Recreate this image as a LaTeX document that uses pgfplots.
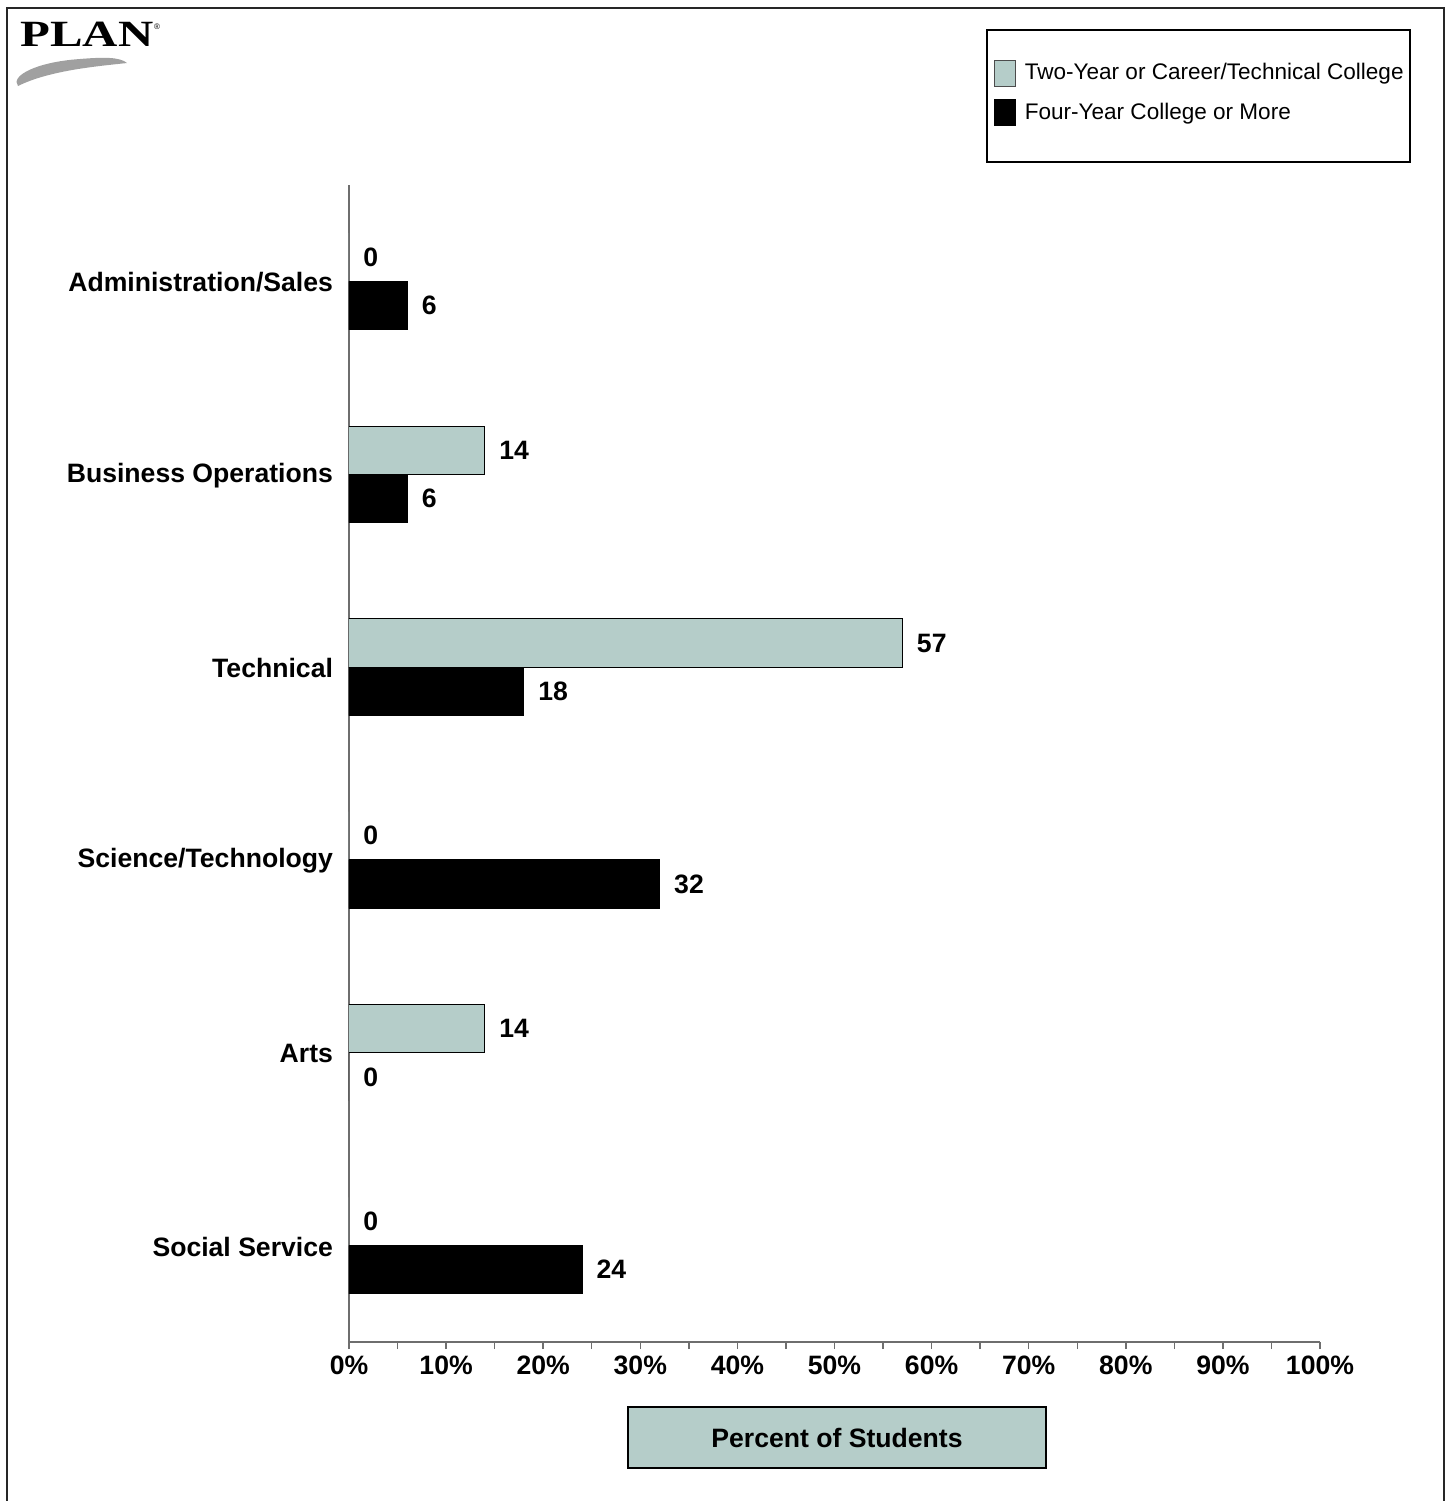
\documentclass[border=0pt]{standalone}
\usepackage{pgfplots}
\pgfplotsset{compat=1.18}
\usepackage{pgfplotstable}
\usepackage{graphicx}
\usepackage{fontspec}
\setmainfont{Liberation Sans}
\newfontfamily\planfont{Liberation Serif}
\definecolor{teal1}{RGB}{181,205,201}
\definecolor{axgray}{RGB}{110,110,110}
\definecolor{swoosh}{RGB}{160,160,160}

\pgfplotstableread{
y two four
5 0 6
4 14 6
3 57 18
2 0 32
1 14 0
0 0 24
}\datatab

\newcommand{\bigbf}{\bfseries\fontsize{13.3}{16}\selectfont}

\begin{document}
\begin{tikzpicture}
\useasboundingbox (0,0) rectangle (725pt,-750.5pt);
% outer frame
\draw[line width=1.2pt, black!85] (3.5pt,-760pt) -- (3.5pt,-4pt) -- (722pt,-4pt) -- (722pt,-760pt);
% logo
\node[anchor=base west, inner sep=0] at (10pt,-23pt) {\scalebox{1.32}[1]{\planfont\bfseries\fontsize{18.5}{18.5}\selectfont PLAN}};
\node[inner sep=0, font=\fontsize{4}{4}\selectfont] at (78.5pt,-13.5pt) {®};
\fill[swoosh] (9pt,-43pt) .. controls (5pt,-38pt) and (18pt,-31pt) .. (40pt,-29.5pt) .. controls (52pt,-28.5pt) and (60pt,-28.5pt) .. (63.5pt,-31.5pt) .. controls (50pt,-33pt) and (25pt,-35pt) .. (9pt,-43pt) -- cycle;
% axis title box
\node[draw=black, line width=0.8pt, fill=teal1, minimum width=209pt, minimum height=30.5pt, inner sep=0pt, font=\bigbf] at (418.5pt,-718.75pt) {Percent of Students};
% legend frame
\draw[line width=0.9pt] (493.5pt,-15pt) rectangle (705pt,-81pt);

\begin{axis}[
  at={(174.5pt,-671pt)}, anchor=south west,
  scale only axis, width=485.5pt, height=578.5pt,
  xmin=0, xmax=100, ymin=-0.5, ymax=5.5,
  xbar, bar width=0.25,
  /pgf/number format/assume math mode=true,
  axis x line*=bottom, axis y line*=left,
  axis line style={axgray, line width=0.7pt, -},
  xtick={0,10,...,100}, minor xtick={5,15,...,95},
  tick align=outside, major tick length=3.5pt, minor tick length=3.5pt,
  xtick style={axgray, line width=0.7pt},
  minor tick style={axgray, line width=0.7pt},
  xticklabel={\pgfmathprintnumber{\tick}\%},
  xticklabel style={font=\bigbf},
  ytick={0,...,5},
  yticklabels={Social Service,Arts,Science/Technology,Technical,Business Operations,Administration/Sales},
  ytick style={draw=none},
  yticklabel style={font=\bigbf, xshift=-1pt, yshift=-0.5pt},
  nodes near coords,
  nodes near coords style={font=\bigbf, anchor=west, inner sep=0pt, xshift=7pt},
  legend style={at={(0.6637,1.1089)}, anchor=north west, draw=none, fill=none,
    inner sep=0pt, font=\fontsize{11.27}{13}\selectfont, row sep=6pt,
    /tikz/every odd column/.append style={column sep=2.5pt}},
  legend cell align=left,
]
\addplot[fill=teal1, draw=black, line width=0.5pt, bar shift=0.125, point meta=x,
  legend image code/.code={\draw[fill=teal1, draw=black!70, line width=0.5pt] (0pt,-6.5pt) rectangle (10.5pt,6.5pt);}]
  table[x=two, y=y]{\datatab};
\addplot[fill=black, draw=black, line width=0.5pt, bar shift=-0.125, point meta=x,
  legend image code/.code={\draw[fill=black, draw=black, line width=0.5pt] (0pt,-6.5pt) rectangle (10.5pt,6.5pt);}]
  table[x=four, y=y]{\datatab};
\legend{Two-Year or Career/Technical College, Four-Year College or More}
\end{axis}
\end{tikzpicture}
\end{document}
